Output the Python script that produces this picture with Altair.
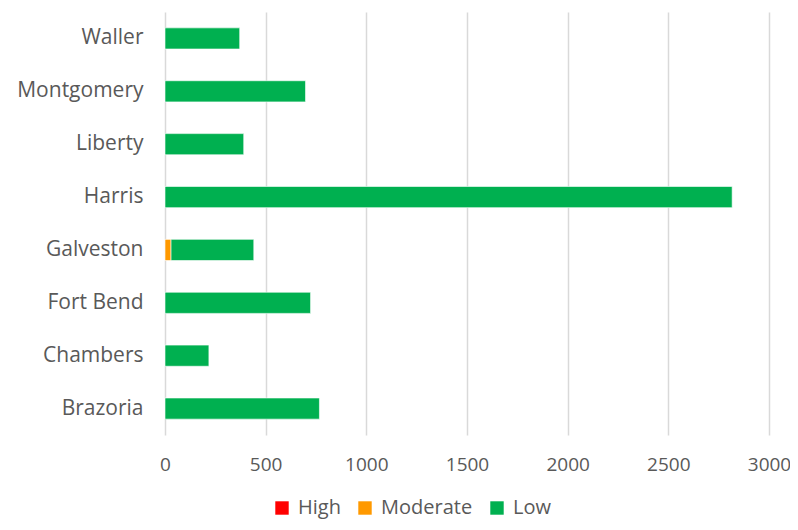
import altair as alt
import pandas as pd

counties = ["Waller", "Montgomery", "Liberty", "Harris", "Galveston", "Fort Bend", "Chambers", "Brazoria"]
high = [0, 0, 0, 0, 0, 0, 0, 0]
moderate = [0, 0, 0, 0, 30, 0, 0, 0]
low = [371, 698, 391, 2817, 411, 723, 218, 767]

levels = ["High", "Moderate", "Low"]
colors = ["#FF0000", "#FF9900", "#00B050"]

rows = []
for i, c in enumerate(counties):
    for j, (lvl, vals) in enumerate(zip(levels, [high, moderate, low])):
        rows.append({"County": c, "Level": lvl, "Value": vals[i], "ord": j})
df = pd.DataFrame(rows)

font = "Open Sans"
bars = alt.Chart(df).mark_bar(stroke="white", strokeWidth=0.6).encode(
    y=alt.Y("County:N", sort=counties, title=None,
            scale=alt.Scale(paddingInner=0.6, paddingOuter=0.3),
            axis=alt.Axis(labelFontSize=21, labelColor="#595959", labelFont=font,
                          ticks=False, domain=False, labelPadding=22)),
    x=alt.X("Value:Q", title=None, stack="zero",
            scale=alt.Scale(domain=[0, 3000], nice=False),
            axis=alt.Axis(values=[0, 500, 1000, 1500, 2000, 2500, 3000], format="d",
                          labelFlush=False,
                          labelFontSize=19, labelColor="#595959", labelFont=font,
                          gridColor="#D9D9D9", gridWidth=1.5, domain=False,
                          ticks=False, labelPadding=20)),
    color=alt.Color("Level:N", sort=levels,
                    scale=alt.Scale(domain=levels, range=colors),
                    legend=alt.Legend(title=None, orient="none", direction="horizontal",
                                      legendX=107, legendY=486, symbolType="square",
                                      symbolSize=180, symbolStrokeWidth=0,
                                      labelFontSize=20, labelColor="#595959",
                                      labelFont=font, columnPadding=14, labelOffset=6)),
    order=alt.Order("ord:Q"),
).properties(
    width=604, height=423,
    autosize=alt.AutoSizeParams(type="none"),
    padding={"left": 157, "top": 4, "right": 21, "bottom": 87},
).configure_view(stroke=None)

bars.save("out.html", embed_options={"renderer": "svg", "actions": False})
